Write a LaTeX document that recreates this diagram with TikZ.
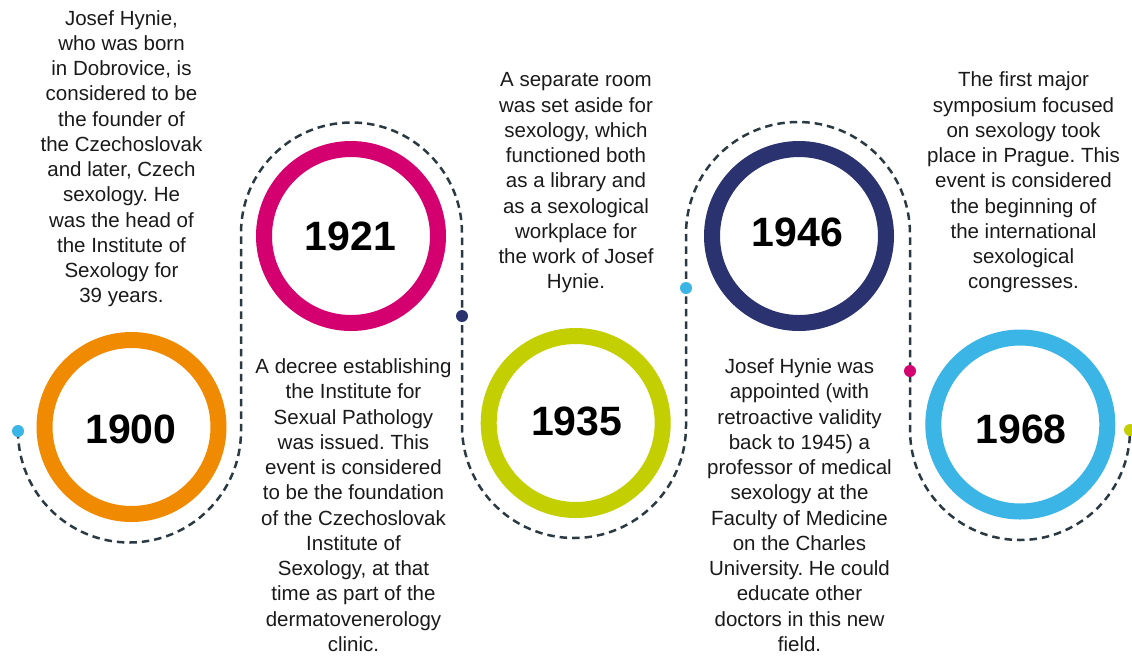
\documentclass[tikz,border=0pt]{standalone}
\usepackage{fontspec}
\setmainfont{Liberation Sans}
\frenchspacing
\definecolor{cOrange}{HTML}{F08A00}
\definecolor{cMagenta}{HTML}{D4006F}
\definecolor{cLime}{HTML}{C3CF00}
\definecolor{cNavy}{HTML}{2A3270}
\definecolor{cSky}{HTML}{3BB5E5}
\definecolor{cDash}{HTML}{2B3A42}
\definecolor{cText}{HTML}{1A1A1A}
\newcommand{\firstln}{\rule{0pt}{15.5pt}}
\tikzset{
  ring/.style={circle, draw=#1, line width=16pt, minimum size=174pt, inner sep=0pt},
  year/.style={font=\fontsize{41}{41}\selectfont\bfseries, text=black, inner sep=0pt},
  body/.style={font=\fontsize{20.5}{25.25}\selectfont\frenchspacing, text=cText, align=center, inner sep=0pt, anchor=north},
  dot/.style={circle, fill=#1, minimum size=12pt, inner sep=0pt},
  dashline/.style={draw=cDash, line width=2.5pt, dash pattern=on 7.5pt off 5pt}
}
\begin{document}
\begin{tikzpicture}[x=1pt,y=-1pt]
\useasboundingbox[fill=white] (0,0) rectangle (1132,657);

% dots (positions)
\coordinate (d0) at (18,431);
\coordinate (d1) at (462,316);
\coordinate (d2) at (686,288);
\coordinate (d3) at (910,371);
\coordinate (d4) at (1130,430);

% dashed timeline
\draw[dashline] (d0) arc[start angle=180, end angle=0, radius=111.5]
  -- (241,233) arc[start angle=180, end angle=360, radius=110.5]
  -- (d1) -- (462,426) arc[start angle=180, end angle=0, radius=112]
  -- (d2) -- (686,234) arc[start angle=180, end angle=360, radius=112]
  -- (d3) -- (910,430) arc[start angle=180, end angle=0, radius=110]
  -- (d4);

\node[dot=cSky] (p0) at (d0) {};
\node[dot=cNavy] (p1) at (d1) {};
\node[dot=cSky] (p2) at (d2) {};
\node[dot=cMagenta] (p3) at (d3) {};
\node[dot=cLime] (p4) at (d4) {};

% rings
\node[ring=cOrange] (r1900) at (131.5,427) {};
\node[ring=cMagenta] (r1921) at (351,236) {};
\node[ring=cLime] (r1935) at (575.7,423) {};
\node[ring=cNavy] (r1946) at (799,236) {};
\node[ring=cSky] (r1968) at (1020.3,424.5) {};

% years
\node[year] (y1900) at (131,429.3) {1900};
\node[year] (y1921) at (350.3,236.7) {1921};
\node[year] (y1935) at (576.7,421) {1935};
\node[year] (y1946) at (797.5,232.3) {1946};
\node[year] (y1968) at (1021,429) {1968};

% texts
\node[body] (t1900) at (121.5,9.5) {\firstln Josef Hynie,\\who was born\\in Dobrovice, is\\considered to be\\the founder of\\the Czechoslovak\\and later, Czech\\sexology. He\\was the head of\\the Institute of\\Sexology for\\39 years.};
\node[body] (t1921) at (353.5,357.8) {\firstln A decree establishing\\the Institute for\\Sexual Pathology\\was issued. This\\event is considered\\to be the foundation\\of the Czechoslovak\\Institute of\\Sexology, at that\\time as part of the\\dermatovenerology\\clinic.};
\node[body] (t1935) at (576,71.2) {\firstln A separate room\\was set aside for\\sexology, which\\functioned both\\as a library and\\as a sexological\\workplace for\\the work of Josef\\Hynie.};
\node[body] (t1946) at (799.5,357.8) {\firstln Josef Hynie was\\appointed (with\\retroactive validity\\back to 1945) a\\professor of medical\\sexology at the\\Faculty of Medicine\\on the Charles\\University. He could\\educate other\\doctors in this new\\field.};
\node[body] (t1968) at (1023.5,71.2) {\firstln The first major\\symposium focused\\on sexology took\\place in Prague. This\\event is considered\\the beginning of\\the international\\sexological\\congresses.};
\end{tikzpicture}
\end{document}
